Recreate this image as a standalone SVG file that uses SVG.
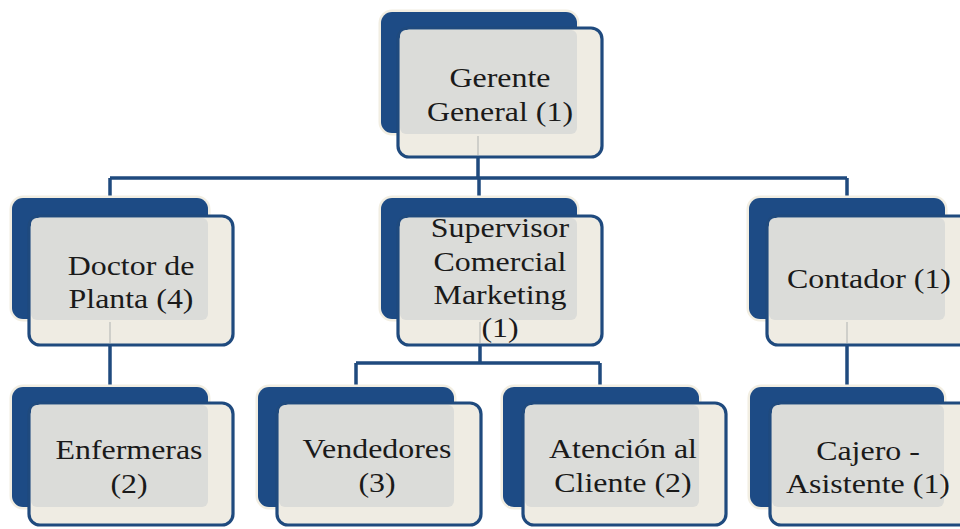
<svg xmlns="http://www.w3.org/2000/svg" width="960" height="529" viewBox="0 0 960 529">
  <style>
    .back { fill: #1d4b85; stroke: #f2eee2; stroke-width: 5; paint-order: stroke; }
    .front { fill: #efece3; stroke: #1f4a7e; stroke-width: 3.2; }
    .over { fill: #dbdcd9; }
    .lbl { font-family: "Liberation Serif", "Times New Roman", serif; font-size: 28px; fill: #1a1a1a; text-anchor: middle; }
    .conn { stroke: #1f4a7e; stroke-width: 3.5; fill: none; }
    .ghost { stroke: #cfcfca; stroke-width: 2; fill: none; }
  </style>
  <rect width="960" height="529" fill="#ffffff"/>

  <g id="connectors">
    <path class="conn" d="M478 157 V178 M110 178 H847 M110 178 V198 M479 178 V198 M847 178 V198"/>
    <path class="conn" d="M110 345 V387"/>
    <path class="conn" d="M480 345 V363 M356 363 H600 M356 363 V387 M600 363 V387"/>
    <path class="conn" d="M847 345 V387"/>
  </g>

  <g id="gerente">
    <rect class="back" x="381" y="12" width="196" height="121" rx="11"/>
    <rect class="front" x="398" y="28" width="204" height="129" rx="11"/>
    <rect class="over" x="400" y="30" width="177" height="104" rx="6"/>
    <line class="ghost" x1="478" y1="136" x2="478" y2="155"/>
    <text class="lbl" transform="translate(500 0) scale(1.14 1)" x="0" y="87">Gerente</text>
    <text class="lbl" transform="translate(500 0) scale(1.14 1)" x="0" y="121">General (1)</text>
  </g>

  <g id="doctor">
    <rect class="back" x="12" y="198" width="196" height="121" rx="11"/>
    <rect class="front" x="29" y="216" width="204" height="129" rx="11"/>
    <rect class="over" x="31" y="218" width="177" height="102" rx="6"/>
    <line class="ghost" x1="110" y1="322" x2="110" y2="343"/>
    <text class="lbl" transform="translate(131 0) scale(1.14 1)" x="0" y="275">Doctor de</text>
    <text class="lbl" transform="translate(131 0) scale(1.14 1)" x="0" y="308">Planta (4)</text>
  </g>

  <g id="supervisor">
    <rect class="back" x="381" y="198" width="196" height="121" rx="11"/>
    <rect class="front" x="398" y="216" width="204" height="129" rx="11"/>
    <rect class="over" x="400" y="218" width="177" height="102" rx="6"/>
    <line class="ghost" x1="480" y1="322" x2="480" y2="343"/>
    <text class="lbl" transform="translate(500 0) scale(1.14 1)" x="0" y="237">Supervisor</text>
    <text class="lbl" transform="translate(500 0) scale(1.14 1)" x="0" y="271">Comercial</text>
    <text class="lbl" transform="translate(500 0) scale(1.14 1)" x="0" y="304">Marketing</text>
    <text class="lbl" transform="translate(500 0) scale(1.14 1)" x="0" y="337">(1)</text>
  </g>

  <g id="contador">
    <rect class="back" x="749" y="198" width="196" height="121" rx="11"/>
    <rect class="front" x="767" y="216" width="204" height="129" rx="11"/>
    <rect class="over" x="769" y="218" width="176" height="102" rx="6"/>
    <line class="ghost" x1="847" y1="322" x2="847" y2="343"/>
    <text class="lbl" transform="translate(869 0) scale(1.14 1)" x="0" y="288">Contador (1)</text>
  </g>

  <g id="enfermeras">
    <rect class="back" x="12" y="387" width="196" height="120" rx="11"/>
    <rect class="front" x="29" y="403" width="204" height="122" rx="11"/>
    <rect class="over" x="31" y="405" width="177" height="102" rx="6"/>
    <text class="lbl" transform="translate(129 0) scale(1.14 1)" x="0" y="459">Enfermeras</text>
    <text class="lbl" transform="translate(129 0) scale(1.14 1)" x="0" y="493">(2)</text>
  </g>

  <g id="vendedores">
    <rect class="back" x="258" y="387" width="196" height="120" rx="11"/>
    <rect class="front" x="277" y="403" width="204" height="122" rx="11"/>
    <rect class="over" x="279" y="405" width="175" height="102" rx="6"/>
    <text class="lbl" transform="translate(377 0) scale(1.14 1)" x="0" y="458">Vendedores</text>
    <text class="lbl" transform="translate(377 0) scale(1.14 1)" x="0" y="492">(3)</text>
  </g>

  <g id="atencion">
    <rect class="back" x="503" y="387" width="196" height="120" rx="11"/>
    <rect class="front" x="523" y="403" width="203" height="122" rx="11"/>
    <rect class="over" x="525" y="405" width="174" height="102" rx="6"/>
    <text class="lbl" transform="translate(623 0) scale(1.14 1)" x="0" y="458">Atención al</text>
    <text class="lbl" transform="translate(623 0) scale(1.14 1)" x="0" y="492">Cliente (2)</text>
  </g>

  <g id="cajero">
    <rect class="back" x="750" y="387" width="194" height="120" rx="11"/>
    <rect class="front" x="770" y="403" width="204" height="122" rx="11"/>
    <rect class="over" x="772" y="405" width="172" height="102" rx="6"/>
    <text class="lbl" transform="translate(868 0) scale(1.14 1)" x="0" y="460">Cajero -</text>
    <text class="lbl" transform="translate(868 0) scale(1.14 1)" x="0" y="493">Asistente (1)</text>
  </g>
</svg>
